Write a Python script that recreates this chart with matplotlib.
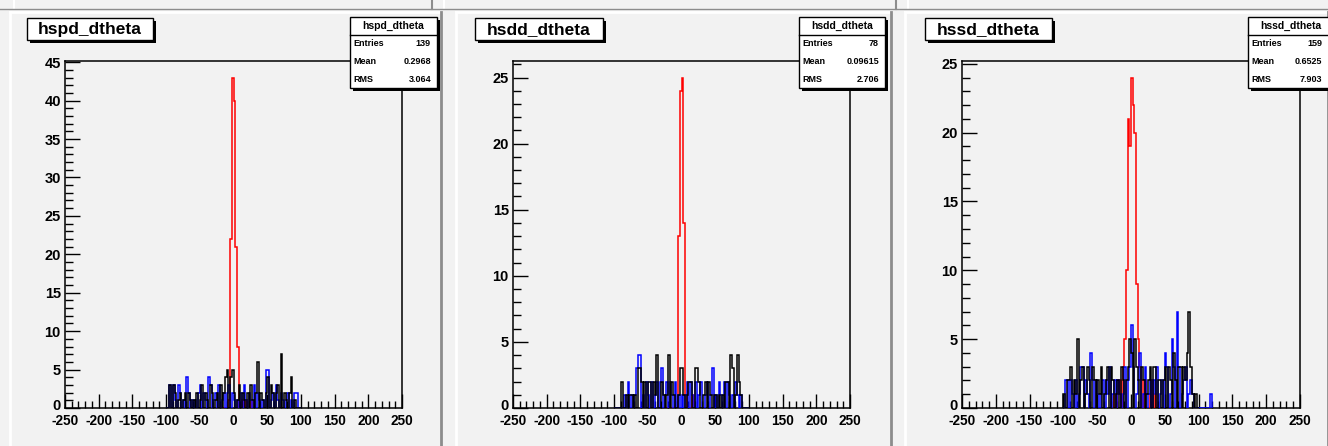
import numpy as np
import matplotlib
matplotlib.use("Agg")
import matplotlib.pyplot as plt
import matplotlib.transforms as mtransforms
from matplotlib.patches import Rectangle

# ---------------------------------------------------------------- data
BIN_WIDTH = 2.5
RED_START = -25.0       # low edge of the first bin of the red series
NOISE_START = -100.0    # low edge of the first bin of the blue/black series

titles = ["hspd_dtheta", "hsdd_dtheta", "hssd_dtheta"]
entries = ["139", "78", "159"]
means = ["0.2968", "0.09615", "0.6525"]
rms = ["3.064", "2.706", "7.903"]

red_hspd = [0, 0, 0, 0, 0, 0, 0, 1, 22, 43, 40, 21, 8, 0, 0, 1, 0, 1, 0, 0, 1]
red_hsdd = [0, 0, 0, 0, 0, 0, 0, 0, 13, 24, 25, 14, 1, 0, 0, 0, 1]
red_hssd = [1, 0, 1, 2, 0, 3, 5, 10, 21, 19, 24, 22, 20, 9, 5, 3, 2, 0, 2, 1,
            1, 0, 2, 0, 1]

blue_hspd = [0, 0, 3, 0, 3, 1, 0, 3, 2, 0, 1, 0, 4, 2, 0, 1, 0, 1, 0, 2,
             3, 0, 2, 1, 0, 4, 3, 0, 1, 2, 0, 3, 0, 1, 2, 0, 2, 3, 0, 2,
             1, 0, 1, 0, 2, 0, 3, 1, 0, 2, 1, 0, 3, 0, 2, 1, 0, 1, 0, 5,
             5, 0, 1, 2, 0, 3, 1, 0, 2, 1, 0, 1, 2, 0, 1, 0, 2, 2, 0, 0]
black_hspd = [0, 0, 3, 0, 3, 2, 0, 1, 2, 0, 1, 2, 0, 2, 1, 0, 1, 0, 2, 0,
              1, 3, 0, 2, 1, 0, 3, 2, 0, 1, 2, 0, 3, 0, 2, 4, 5, 0, 4, 5,
              2, 0, 1, 3, 0, 2, 1, 0, 2, 0, 3, 1, 0, 2, 6, 0, 2, 1, 0, 2,
              4, 0, 3, 2, 0, 2, 3, 0, 7, 0, 2, 1, 0, 2, 4, 0, 1, 0, 0, 0]

blue_hsdd = [0, 0, 0, 0, 0, 0, 1, 0, 2, 0, 1, 0, 1, 3, 4, 4, 0, 1, 0, 2,
             1, 0, 2, 0, 1, 2, 0, 2, 3, 0, 1, 2, 0, 2, 1, 0, 2, 0, 1, 0,
             1, 0, 1, 2, 0, 2, 1, 0, 2, 0, 1, 2, 0, 0, 1, 2, 0, 1, 3, 0,
             1, 0, 2, 1, 0, 2, 0, 2, 1, 0, 1, 0, 2, 1, 0, 1, 0, 0, 0, 0]
black_hsdd = [0, 0, 0, 0, 2, 0, 0, 1, 0, 1, 1, 0, 1, 0, 3, 3, 2, 0, 2, 0,
              2, 2, 0, 2, 1, 4, 0, 0, 2, 1, 0, 1, 4, 0, 2, 1, 0, 0, 1, 3,
              3, 1, 0, 1, 2, 2, 0, 0, 3, 3, 2, 0, 0, 1, 2, 0, 2, 1, 0, 1,
              1, 0, 1, 0, 1, 0, 2, 2, 0, 4, 3, 0, 1, 4, 2, 1, 0, 0, 0, 0]

blue_hssd = [0, 2, 2, 0, 2, 1, 0, 2, 0, 1, 3, 3, 0, 2, 1, 0, 4, 2, 0, 2,
             1, 0, 1, 2, 0, 2, 1, 3, 0, 1, 2, 0, 2, 1, 0, 1, 3, 0, 2, 3,
             6, 3, 0, 1, 2, 4, 0, 1, 3, 0, 1, 2, 0, 2, 1, 3, 0, 1, 2, 0,
             4, 3, 0, 1, 5, 3, 0, 7, 3, 0, 1, 2, 3, 0, 1, 2, 1, 0, 0, 0,
             0, 0, 0, 0, 0, 0, 0, 1]
black_hssd = [1, 0, 2, 2, 3, 0, 2, 1, 5, 0, 2, 3, 0, 1, 3, 2, 0, 3, 2, 0,
              2, 1, 3, 0, 1, 2, 3, 0, 3, 2, 0, 1, 2, 0, 3, 2, 0, 2, 3, 5,
              4, 0, 5, 3, 2, 0, 3, 2, 0, 1, 2, 3, 0, 3, 3, 0, 2, 2, 0, 2,
              3, 0, 3, 2, 0, 4, 2, 0, 3, 3, 0, 3, 2, 4, 7, 3, 1, 0, 1, 0]

panels = [
    (titles[0], red_hspd, blue_hspd, black_hspd, entries[0], means[0], rms[0]),
    (titles[1], red_hsdd, blue_hsdd, black_hsdd, entries[1], means[1], rms[1]),
    (titles[2], red_hssd, blue_hssd, black_hssd, entries[2], means[2], rms[2]),
]

# ---------------------------------------------------------------- layout
W, H = 1328, 446
BG = "#f2f2f2"
FONT = ["Liberation Sans", "DejaVu Sans"]
plt.rcParams["font.family"] = FONT

fig = plt.figure(figsize=(W / 100, H / 100), dpi=100)
fig.patch.set_facecolor(BG)


def overlay(z):
    a = fig.add_axes([0, 0, 1, 1], zorder=z)
    a.set_xlim(0, W)
    a.set_ylim(H, 0)
    a.axis("off")
    a.patch.set_alpha(0)
    return a


deco = overlay(0)     # canvas decorations below the frames
boxes = overlay(10)   # title and statistics boxes above the frames

# remains of the pad row above and the pad separators
deco.plot([14, 14], [0, 9], color="white", lw=1.5)
deco.plot([432, 432], [0, 9], color="#8c8c8c", lw=1.5)
deco.plot([444, 444], [0, 9], color="white", lw=1.5)
deco.plot([896, 896], [0, 9], color="#8c8c8c", lw=1.5)
deco.plot([908, 908], [0, 9], color="white", lw=1.5)
deco.plot([0, W], [9, 9], color="#8c8c8c", lw=1.0)

pad_x = [(10, 441), (456, 891), (905, 1328)]
for x0, x1 in pad_x:
    deco.plot([x0, x1], [12, 12], color="white", lw=2)
    deco.plot([x0, x0], [12, H], color="white", lw=2)
    deco.plot([x1, x1], [12, H], color="#8c8c8c", lw=2)

frames = [(65, 402), (513, 850), (962, 1300)]
FR_TOP, FR_BOT = 61, 408
title_boxes = [(27, 153), (475, 603), (925, 1052)]
stat_boxes = [(350, 437), (799, 885), (1248, 1334)]


def px_axes(x0, y0, x1, y1):
    return fig.add_axes([x0 / W, 1 - y1 / H, (x1 - x0) / W, (y1 - y0) / H],
                        zorder=2)


def box(x0, y0, x1, y1, shadow=3):
    boxes.add_patch(Rectangle((x0 + shadow, y0 + shadow), x1 - x0, y1 - y0,
                              facecolor="black", edgecolor="none", zorder=5))
    boxes.add_patch(Rectangle((x0, y0), x1 - x0, y1 - y0, facecolor="white",
                              edgecolor="black", lw=1.0, zorder=6))


lift = mtransforms.ScaledTranslation(0, 4 / 100, fig.dpi_scale_trans)

for k, (title, red, blue, black, ent, mean, rmsv) in enumerate(panels):
    fx0, fx1 = frames[k]
    ax = px_axes(fx0, FR_TOP, fx1, FR_BOT)
    ax.set_facecolor(BG)

    red = np.asarray(red, float)
    blue = np.asarray(blue, float)
    black = np.asarray(black, float)
    red_edges = RED_START + BIN_WIDTH * np.arange(len(red) + 1)
    blue_edges = NOISE_START + BIN_WIDTH * np.arange(len(blue) + 1)
    black_edges = NOISE_START + BIN_WIDTH * np.arange(len(black) + 1)

    ax.stairs(red, red_edges, color="red", lw=1.1, baseline=0, zorder=3)
    ax.stairs(blue, blue_edges, color="blue", lw=1.1, baseline=0, zorder=4)
    ax.stairs(black, black_edges, color="black", lw=1.1, baseline=0, zorder=5)

    ymax = 1.05 * red.max()
    ax.set_xlim(-250, 250)
    ax.set_ylim(0, ymax)

    ax.set_xticks(np.arange(-250, 251, 50))
    ax.set_xticks(np.arange(-250, 251, 10), minor=True)
    ax.set_yticks(np.arange(0, ymax + 0.01, 5))
    ax.set_yticks(np.arange(0, ymax + 0.01, 1), minor=True)
    ax.tick_params(which="both", direction="in", top=False, right=False,
                   width=1.0, colors="black")
    ax.tick_params(which="major", axis="x", length=10, pad=4)
    ax.tick_params(which="minor", axis="x", length=5)
    ax.tick_params(which="major", axis="y", length=11, pad=3)
    ax.tick_params(which="minor", axis="y", length=6)
    ax.set_yticklabels([f"{int(v)}" for v in ax.get_yticks()],
                       fontweight="bold", fontsize=10.5)
    ax.set_xticklabels([f"{int(v)}" for v in ax.get_xticks()],
                       fontweight="bold", fontsize=9.8)
    # the zero label of the y axis sits a little above the corner
    zero_lab = ax.get_yticklabels()[0]
    zero_lab.set_transform(zero_lab.get_transform() + lift)
    for sp in ax.spines.values():
        sp.set_linewidth(1.1)
        sp.set_color("black")

    # title box
    tx0, tx1 = title_boxes[k]
    box(tx0, 18, tx1, 40)
    boxes.text((tx0 + tx1) / 2, 29.5, title, ha="center", va="center",
               fontsize=12.5, fontweight="bold", zorder=7)

    # statistics box
    sx0, sx1 = stat_boxes[k]
    box(sx0, 17, sx1, 88)
    boxes.plot([sx0, sx1], [35, 35], color="black", lw=1.0, zorder=7)
    boxes.text((sx0 + sx1) / 2, 26, title, ha="center", va="center",
               fontsize=7.5, fontweight="bold", zorder=7)
    for row, (name, val) in enumerate([("Entries", ent), ("Mean", mean),
                                       ("RMS", rmsv)]):
        yy = 44 + row * 17.5
        boxes.text(sx0 + 3, yy, name, ha="left", va="center", fontsize=6.5,
                   fontweight="bold", zorder=7)
        boxes.text(min(sx1, W) - 6, yy, val, ha="right", va="center",
                   fontsize=6.5, fontweight="bold", zorder=7)

fig.savefig("out.png", dpi=100, facecolor=BG)
